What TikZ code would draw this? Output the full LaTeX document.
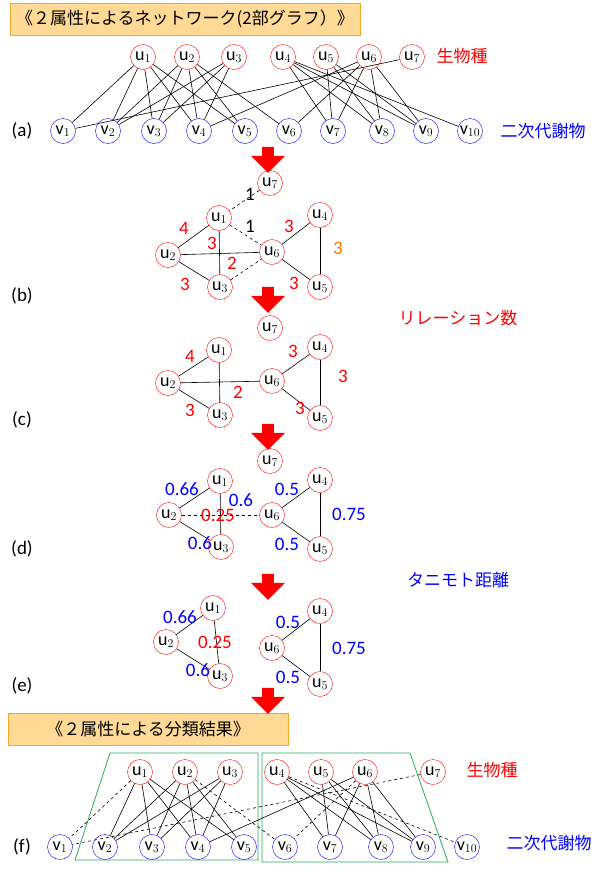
\documentclass[tikz,border=0pt]{standalone}
\usepackage{fontspec}
\setmainfont{Carlito}
\newfontfamily\jpfont{Noto Sans CJK JP}
\usetikzlibrary{shapes.arrows}
\definecolor{boxfill}{RGB}{255,218,150}
\definecolor{boxline}{RGB}{240,170,40}
\definecolor{grp}{RGB}{40,170,90}
\begin{document}
\begin{tikzpicture}[x=1pt,y=-1pt]
  \useasboundingbox(0,0) rectangle (603,873);
  \tikzset{U/.style = {shape=circle, draw=red, inner sep=0pt, minimum size=25pt, font=\fontsize{18}{18}\selectfont}}
  \tikzset{W/.style = {shape=circle, draw=blue, inner sep=0pt, minimum size=25pt, font=\fontsize{18}{18}\selectfont}}
  \tikzset{E/.style = {draw,black,line width=0.6pt}}
  \tikzset{D/.style = {draw,black,dashed,line width=0.6pt}}
  \tikzset{R/.style = {red,font=\fontsize{19}{19}\selectfont}}
  \tikzset{B/.style = {blue,font=\fontsize{19}{19}\selectfont}}
  \tikzset{tag/.style = {font=\fontsize{19}{19}\selectfont}}
  \tikzset{jp/.style = {font=\jpfont\fontsize{17}{17}\selectfont}}
  \tikzset{title/.style = {draw=boxline,fill=boxfill,minimum height=32pt,inner xsep=6pt,anchor=west,font=\jpfont\fontsize{17}{17}\selectfont}}
  \tikzset{bigarrow/.style = {single arrow,fill=red,draw=none,shape border rotate=270,minimum width=34pt,single arrow head extend=6pt,minimum height=26pt,inner sep=3pt}}
  % titles
  \node[title,minimum width=282pt](t1) at (10,19) {《２属性によるネットワーク(2部グラフ）》};
  \node[title,minimum width=280pt](t2) at (8,729) {《２属性による分類結果》};
  % arrows
  \foreach \y [count=\i] in {157,297,434,584,698}
    \node[bigarrow](a\i) at (268,\y) {};
  % (a)
  \foreach \x [count=\i] in {143,187,234,283,326,369,412}
    \node[U](au\i) at (\x,57) {$\mathrm{u}_{\i}$};
  \foreach \x [count=\i] in {63,108,154,199,245,289,333,382,426,470}
    \node[W](av\i) at (\x,131) {$\mathrm{v}_{\i}$};
  \node[tag](la) at (22,131) {(a)};
  \node[jp,red](sa) at (462,56) {生物種};
  \node[jp,blue](ma) at (543,131) {二次代謝物};
  \foreach \u/\v in {1/1,1/2,1/3,1/4,1/5,2/2,2/3,2/4,2/5,2/6,3/2,3/3,3/4,
                     4/7,4/8,4/9,4/10,5/7,5/8,5/9,6/4,6/6,6/7,6/8,6/9,7/1}
    \draw[E](au\u) to (av\v);
  % (b)
  \node[U](bu7) at (270,183) {$\mathrm{u}_{7}$};
  \node[U](bu1) at (219,218) {$\mathrm{u}_{1}$};
  \node[U](bu2) at (168,255) {$\mathrm{u}_{2}$};
  \node[U](bu3) at (220,287) {$\mathrm{u}_{3}$};
  \node[U](bu6) at (272,252) {$\mathrm{u}_{6}$};
  \node[U](bu4) at (320,215) {$\mathrm{u}_{4}$};
  \node[U](bu5) at (320,287) {$\mathrm{u}_{5}$};
  \draw[D](bu7) to (bu1);
  \draw[D](bu1) to (bu6);
  \draw[D](bu3) to (bu6);
  \draw[E](bu1) to (bu2);
  \draw[E](bu1) to (bu3);
  \draw[E](bu2) to (bu6);
  \draw[E](bu2) to (bu3);
  \draw[E](bu6) to (bu4);
  \draw[E](bu6) to (bu5);
  \draw[E](bu4) to (bu5);
  \node[tag](nb1) at (250,194) {1};
  \node[tag](nb2) at (250,226) {1};
  \node[R](nb3) at (184,228) {4};
  \node[R](nb4) at (212,243) {3};
  \node[R](nb5) at (232,263) {2};
  \node[R](nb6) at (185,284) {3};
  \node[R](nb7) at (289,226) {3};
  \node[R](nb8) at (294,283) {3};
  \node[R,text=orange!90!red](nb9) at (338,248) {3};
  \node[tag](lb) at (22,296) {(b)};
  \node[jp,red](rel) at (458,318) {リレーション数};
  % (c)
  \node[U](cu7) at (270,328) {$\mathrm{u}_{7}$};
  \node[U](cu1) at (219,350) {$\mathrm{u}_{1}$};
  \node[U](cu2) at (168,383) {$\mathrm{u}_{2}$};
  \node[U](cu3) at (220,415) {$\mathrm{u}_{3}$};
  \node[U](cu6) at (272,381) {$\mathrm{u}_{6}$};
  \node[U](cu4) at (320,347) {$\mathrm{u}_{4}$};
  \node[U](cu5) at (320,418) {$\mathrm{u}_{5}$};
  \draw[E](cu1) to (cu2);
  \draw[E](cu1) to (cu3);
  \draw[E](cu2) to (cu6);
  \draw[E](cu2) to (cu3);
  \draw[E](cu6) to (cu4);
  \draw[E](cu6) to (cu5);
  \draw[E](cu4) to (cu5);
  \node[R](nc1) at (190,356) {4};
  \node[R](nc2) at (238,392) {2};
  \node[R](nc3) at (190,410) {3};
  \node[R](nc4) at (293,351) {3};
  \node[R](nc5) at (300,408) {3};
  \node[R](nc6) at (343,376) {3};
  \node[tag](lc) at (22,420) {(c)};
  % (d)
  \node[U](du7) at (270,461) {$\mathrm{u}_{7}$};
  \node[U](du1) at (220,481) {$\mathrm{u}_{1}$};
  \node[U](du2) at (169,515) {$\mathrm{u}_{2}$};
  \node[U](du3) at (221,547) {$\mathrm{u}_{3}$};
  \node[U](du6) at (272,515) {$\mathrm{u}_{6}$};
  \node[U](du4) at (320,480) {$\mathrm{u}_{4}$};
  \node[U](du5) at (320,549) {$\mathrm{u}_{5}$};
  \draw[E](du1) to (du2);
  \draw[E](du1) to (du3);
  \draw[D](du2) to (du6);
  \draw[E](du2) to (du3);
  \draw[E](du6) to (du4);
  \draw[E](du6) to (du5);
  \draw[E](du4) to (du5);
  \node[B](nd1) at (182,489) {0.66};
  \node[B](nd2) at (241,500) {0.6};
  \node[R](nd3) at (218,515) {0.25};
  \node[B](nd4) at (200,543) {0.6};
  \node[B](nd5) at (287,489) {0.5};
  \node[B](nd6) at (287,544) {0.5};
  \node[B](nd7) at (349,514) {0.75};
  \node[tag](ld) at (22,549) {(d)};
  \node[jp,blue](tan) at (458,580) {タニモト距離};
  % (e)
  \node[U](eu1) at (213,608) {$\mathrm{u}_{1}$};
  \node[U](eu2) at (166,642) {$\mathrm{u}_{2}$};
  \node[U](eu3) at (220,676) {$\mathrm{u}_{3}$};
  \node[U](eu6) at (272,648) {$\mathrm{u}_{6}$};
  \node[U](eu4) at (320,611) {$\mathrm{u}_{4}$};
  \node[U](eu5) at (320,684) {$\mathrm{u}_{5}$};
  \draw[E](eu1) to (eu2);
  \draw[E](eu1) to (eu3);
  \draw[E](eu2) to (eu3);
  \draw[E](eu6) to (eu4);
  \draw[E](eu6) to (eu5);
  \draw[E](eu4) to (eu5);
  \node[B](ne1) at (180,617) {0.66};
  \node[R](ne2) at (215,642) {0.25};
  \node[B](ne3) at (198,670) {0.6};
  \node[B](ne4) at (288,622) {0.5};
  \node[B](ne5) at (288,677) {0.5};
  \node[B](ne6) at (349,648) {0.75};
  \node[tag](le) at (22,686) {(e)};
  % (f)
  \draw[grp,line width=0.8pt] (110,753) -- (258,753) -- (258,860) -- (75,860) -- cycle;
  \draw[grp,line width=0.8pt] (262,753) -- (410,753) -- (448,862) -- (262,862) -- cycle;
  \foreach \x [count=\i] in {140,185,230,277,321,365,433}
    \node[U](fu\i) at (\x,772) {$\mathrm{u}_{\i}$};
  \foreach \x [count=\i] in {60,105,152,198,244,285,330,381,423,467}
    \node[W](fv\i) at (\x,847) {$\mathrm{v}_{\i}$};
  \node[tag](lf) at (22,847) {(f)};
  \node[jp,red](sf) at (492,770) {生物種};
  \node[jp,blue](mf) at (549,843) {二次代謝物};
  \foreach \u/\v in {1/2,1/3,1/4,1/5,2/2,2/3,2/4,2/5,3/2,3/3,3/4,
                     4/7,4/8,4/9,5/7,5/8,5/9,6/4,6/7,6/8,6/9}
    \draw[E](fu\u) to (fv\v);
  \foreach \u/\v in {1/1,2/6,6/6,7/1,4/10}
    \draw[D](fu\u) to (fv\v);
\end{tikzpicture}
\end{document}
